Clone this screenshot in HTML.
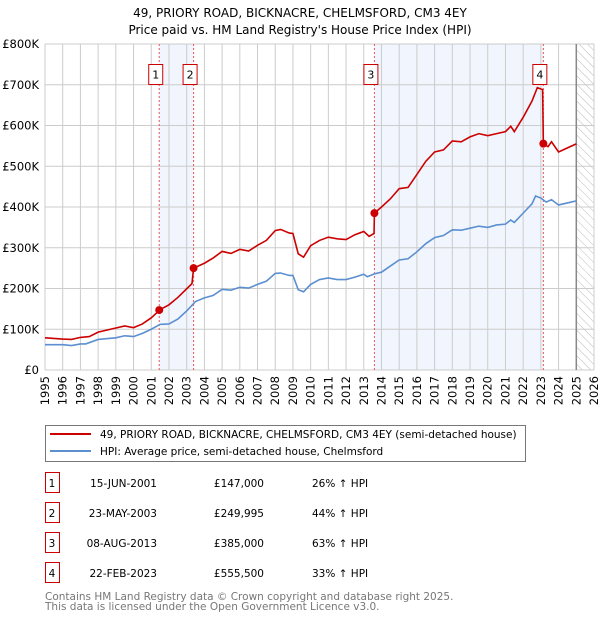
<!DOCTYPE html>
<html><head><meta charset="utf-8"><style>
body{margin:0;background:#fff;}
svg{font-family:"DejaVu Sans","Liberation Sans",sans-serif;}
</style></head><body>
<svg id="chart" width="600" height="620" viewBox="0 0 600 620">
<defs><pattern id="hatch" width="6" height="6" patternUnits="userSpaceOnUse" patternTransform="rotate(-45)"><line x1="0" y1="0" x2="0" y2="6" stroke="#bbb" stroke-width="1"/></pattern></defs>
<text x="300" y="17" text-anchor="middle" font-size="12">49, PRIORY ROAD, BICKNACRE, CHELMSFORD, CM3 4EY</text>
<text x="300" y="34" text-anchor="middle" font-size="12">Price paid vs. HM Land Registry's House Price Index (HPI)</text>
<g id="plot"></g>
<g>
<rect x="45.5" y="425.5" width="480" height="36" fill="#fff" stroke="#777"/>
<line x1="50" y1="434" x2="91" y2="434" stroke="#cc0000" stroke-width="2"/>
<text x="100" y="438" font-size="10.5">49, PRIORY ROAD, BICKNACRE, CHELMSFORD, CM3 4EY (semi-detached house)</text>
<line x1="50" y1="451" x2="91" y2="451" stroke="#5b8fd0" stroke-width="2"/>
<text x="100" y="455" font-size="10.5">HPI: Average price, semi-detached house, Chelmsford</text>
</g>
<g id="table" font-size="10.5"></g>
<text x="45" y="600" font-size="10.5" fill="#777">Contains HM Land Registry data © Crown copyright and database right 2025.</text>
<text x="45" y="610" font-size="10.5" fill="#777">This data is licensed under the Open Government Licence v3.0.</text>
</svg>
<script>
const yearTicks=[1995,1996,1997,1998,1999,2000,2001,2002,2003,2004,2005,2006,2007,2008,2009,2010,2011,2012,2013,2014,2015,2016,2017,2018,2019,2020,2021,2022,2023,2024,2025,2026];
const valueTicks=[0,100,200,300,400,500,600,700,800];
const valueTickLabels=["£0","£100K","£200K","£300K","£400K","£500K","£600K","£700K","£800K"];
const hpiX=[1995,1996,1996.5,1997,1997.3,1998,1999,1999.5,2000,2000.5,2001,2001.5,2002,2002.5,2003,2003.5,2004,2004.5,2005,2005.5,2006,2006.5,2007,2007.5,2008,2008.3,2008.8,2009,2009.3,2009.6,2010,2010.5,2011,2011.5,2012,2012.5,2013,2013.2,2013.6,2014,2014.5,2015,2015.5,2016,2016.5,2017,2017.5,2018,2018.5,2019,2019.5,2020,2020.5,2021,2021.3,2021.5,2022,2022.5,2022.7,2023,2023.3,2023.6,2024,2024.5,2025];
const hpiY=[62,62,60,64,64,75,79,84,82,90,100,112,113,125,145,168,177,183,198,196,203,201,210,218,237,238,232,232,197,192,210,222,226,222,222,228,235,229,236,240,255,270,273,290,310,325,330,344,343,348,353,350,356,358,368,362,385,408,427,422,412,418,405,410,415];
const propX=[1995,1996,1996.5,1997,1997.5,1998,1999,1999.5,2000,2000.5,2001,2001.3,2001.45,2002,2002.5,2003.3,2003.39,2004,2004.5,2005,2005.5,2006,2006.5,2007,2007.5,2008,2008.3,2008.8,2009,2009.3,2009.6,2010,2010.5,2011,2011.5,2012,2012.5,2013,2013.3,2013.58,2013.6,2014,2014.5,2015,2015.5,2016,2016.5,2017,2017.5,2018,2018.5,2019,2019.5,2020,2020.5,2021,2021.3,2021.5,2022,2022.5,2022.8,2023.1,2023.14,2023.4,2023.6,2024,2024.5,2025];
const propY=[79,76,75,80,82,93,103,108,104,113,128,140,147,160,178,212,250,262,275,291,286,296,292,306,318,342,345,336,335,285,277,305,318,326,322,320,332,340,328,335,385,400,420,445,448,480,512,535,540,562,560,572,580,575,580,585,598,585,620,660,693,688,555.5,548,560,535,545,555];
const saleX=[2001.45,2003.39,2013.6,2023.14];
const saleY=[147,249.995,385,555.5];
const saleNums=["1","2","3","4"];
const saleDates=["15-JUN-2001","23-MAY-2003","08-AUG-2013","22-FEB-2023"];
const salePrices=["£147,000","£249,995","£385,000","£555,500"];
const salePcts=["26% ↑ HPI","44% ↑ HPI","63% ↑ HPI","33% ↑ HPI"];

const X0=45,X1=594,Y0=370,Y1=44,xmin=1995,xmax=2026,vmax=800;
const xs=v=>X0+(v-xmin)/(xmax-xmin)*(X1-X0);
const ys=v=>Y0-v/vmax*(Y0-Y1);
const NS="http://www.w3.org/2000/svg";
const plot=document.getElementById('plot');
function mk(tag,attrs,parent){const e=document.createElementNS(NS,tag);for(const k in attrs)e.setAttribute(k,attrs[k]);(parent||plot).appendChild(e);return e;}

for(let i=0;i<4;i+=2){
 const r=mk('rect',{x:xs(saleX[i]),y:Y1,width:xs(saleX[i+1])-xs(saleX[i]),height:Y0-Y1,fill:'#eef3fc',opacity:0.8});
 
 
}
const h=mk('rect',{x:xs(2025),y:Y1,width:X1-xs(2025),height:Y0-Y1,fill:'url(#hatch)'});


yearTicks.forEach(y=>{
 const l=mk('line',{x1:xs(y),x2:xs(y),y1:Y1,y2:Y0,stroke:'#cccccc','stroke-width':1});
 
 
 const t=mk('text',{x:0,y:0,'font-size':11.5,'text-anchor':'end',transform:`translate(${xs(y)+4},${Y0+6}) rotate(-90)`});
 t.textContent=y;
 
 
});
valueTicks.forEach((v,i)=>{
 const l=mk('line',{x1:X0,x2:X1,y1:ys(v),y2:ys(v),stroke:'#cccccc','stroke-width':1});
 
 
 const t=mk('text',{x:X0-6,y:ys(v)+4,'font-size':11.5,'text-anchor':'end'});
 t.textContent=valueTickLabels[i];
 
 
});
const fl=mk('line',{x1:xs(2025),x2:xs(2025),y1:Y1,y2:Y0,stroke:'#888','stroke-width':1.5});


saleX.forEach((x,i)=>{
 const l=mk('line',{x1:xs(x),x2:xs(x),y1:Y1,y2:Y0,stroke:'#ee5555','stroke-width':1,'stroke-dasharray':'2,2'});
 
 
 const b=mk('rect',{x:xs(x)-10.5,y:64.5,width:14,height:20,fill:'#fff',stroke:'#cc0000'});
 
 
 const t=mk('text',{x:xs(x)-3.5,y:78.5,'font-size':11,'text-anchor':'middle'});
 t.textContent=saleNums[i];
 
 
});
const hp=mk('polyline',{points:hpiX.map((x,i)=>xs(x)+','+ys(hpiY[i])).join(' '),fill:'none',stroke:'#5b8fd0','stroke-width':1.6});


const pp=mk('polyline',{points:propX.map((x,i)=>xs(x)+','+ys(propY[i])).join(' '),fill:'none',stroke:'#cc0000','stroke-width':1.6});


saleX.forEach((x,i)=>{
 const c=mk('circle',{cx:xs(x),cy:ys(saleY[i]),r:4,fill:'#cc0000'});
 
 
});
const tb=document.getElementById('table');
saleNums.forEach((n,i)=>{
 const cy=483+i*30;
 const b=mk('rect',{x:45.5,y:cy-10.5,width:14,height:20,fill:'#fff',stroke:'#cc0000'},tb);
 
 
 const cells=[[52,n,'middle'],[157,saleDates[i],'end'],[264,salePrices[i],'end'],[312,salePcts[i],'start']];
 cells.forEach(([x,s,a],j)=>{
  const t=mk('text',{x:x,y:cy+4,'text-anchor':a},tb);
  t.textContent=s;
  
  
 });
});
</script>
</body></html>
